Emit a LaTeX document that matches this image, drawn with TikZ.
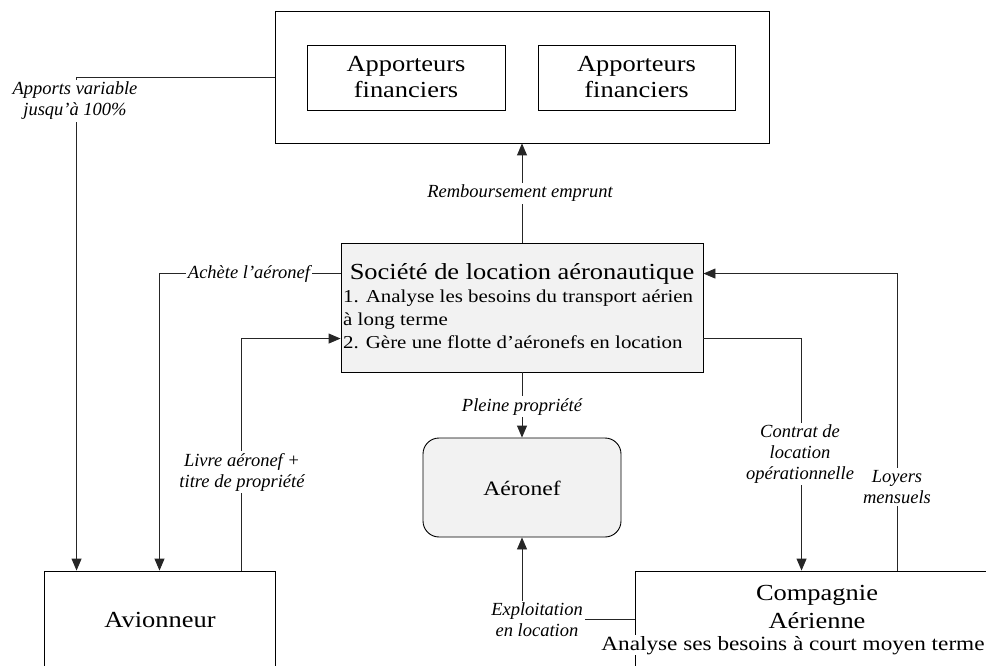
\documentclass[tikz,border=0pt]{standalone}
\usepackage{fontspec}
\setmainfont{Liberation Serif}
\newfontfamily\boxfont{Liberation Serif}[FakeStretch=1.15]
\usetikzlibrary{arrows.meta,calc}
\definecolor{panel}{HTML}{F2F2F2}
\tikzset{
  frame/.style={draw=black,line width=0.9pt,inner sep=0pt},
  bigtxt/.style={inner sep=0pt,font=\boxfont\fontsize{23}{26}\selectfont},
  midtxt/.style={inner sep=0pt,font=\boxfont\fontsize{18.2}{23}\selectfont},
  lbl/.style={inner sep=2pt,fill=white,align=center,font=\fontsize{18.5}{21}\selectfont\itshape},
  link/.style={line width=0.9pt,draw=black!85},
  arr/.style={link,-{Triangle[length=12pt,width=10pt]}}
}
\begin{document}
\begin{tikzpicture}[x=1pt,y=-1pt]
\useasboundingbox (0,0) rectangle (986,666);
\clip (0,0) rectangle (986,666);
\fill[white] (0,0) rectangle (986,666);

% financing block with two funders
\node[frame,minimum width=494pt,minimum height=132pt] (fin) at (522,77) {};
\node[frame,minimum width=198pt,minimum height=65pt,align=center,
      font=\boxfont\fontsize{23}{26}\selectfont] (fa) at (406,77.5) {Apporteurs\\financiers};
\node[frame,minimum width=197pt,minimum height=65pt,align=center,
      font=\boxfont\fontsize{23}{26}\selectfont] (fb) at (636.5,77.5) {Apporteurs\\financiers};

% leasing company
\node[frame,fill=panel,minimum width=362pt,minimum height=129pt] (soc) at (522,307.5) {};
\node[bigtxt,anchor=base] (socT) at (522,279) {Société de location aéronautique};
\node[midtxt,anchor=base west] (socA) at (343,302) {1. Analyse les besoins du transport aérien};
\node[midtxt,anchor=base west] (socB) at (343,325) {à long terme};
\node[midtxt,anchor=base west] (socC) at (343,348) {2. Gère une flotte d’aéronefs en location};

% aircraft
\node[frame,fill=panel,rounded corners=16pt,minimum width=198pt,minimum height=99pt] (aer) at (522,487.5) {};
\node[inner sep=0pt,font=\boxfont\fontsize{20.5}{24}\selectfont,anchor=base] (aerT) at (522,495) {Aéronef};

% manufacturer
\node[frame,minimum width=231pt,minimum height=100pt] (avi) at (159.5,621) {};
\node[bigtxt,anchor=base] (aviT) at (160,627) {Avionneur};

% airline
\node[frame,minimum width=370pt,minimum height=96pt] (cie) at (820,619) {};
\node[bigtxt,anchor=base] (cieA) at (817,600) {Compagnie};
\node[bigtxt,anchor=base] (cieB) at (817,628) {Aérienne};
\node[inner sep=1pt,fill=white,font=\boxfont\fontsize{20.2}{24}\selectfont,anchor=base] (cieC) at (793,650) {Analyse ses besoins à court moyen terme};

% flows
\draw[arr] (soc.north) -- (fin.south);
\draw[arr] (soc.south) -- (aer.north);
\draw[arr] (cie.west) -| (aer.south);
\draw[arr] (fin.west) -| ($(avi.north west)+(33,0)$);
\draw[arr] ($(soc.north west)+(0,31)$) -| (avi.north);
\draw[arr] ($(avi.north west)+(198,0)$) |- ($(soc.north west)+(0,96)$);
\draw[arr] ($(cie.north west)+(263,0)$) |- ($(soc.north east)+(0,31)$);
\draw[arr] ($(soc.north east)+(0,96)$) -| ($(cie.north west)+(167,0)$);

% flow labels
\node[lbl] (lApp) at (75,101) {Apports variable\\jusqu’à 100\%};
\node[lbl,anchor=base] (lAch) at (249,278) {Achète l’aéronef};
\node[lbl] (lLiv) at (242,472) {Livre aéronef +\\titre de propriété};
\node[lbl,anchor=base] (lRem) at (520,198) {Remboursement emprunt};
\node[lbl,anchor=base] (lPle) at (522,411) {Pleine propriété};
\node[lbl] (lCon) at (800,454) {Contrat de\\location\\opérationnelle};
\node[lbl] (lLoy) at (897,487) {Loyers\\mensuels};
\node[lbl] (lExp) at (537,620) {Exploitation\\en location};
\end{tikzpicture}
\end{document}
